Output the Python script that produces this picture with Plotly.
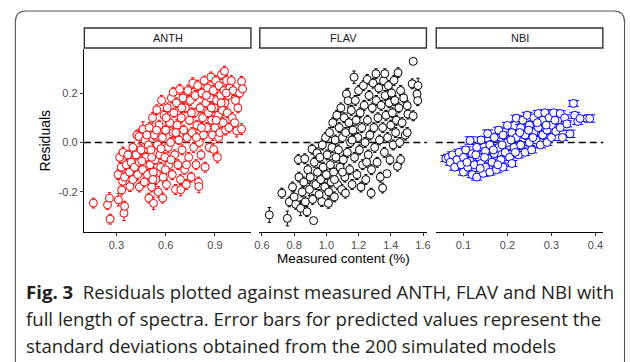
import plotly.graph_objects as go

# ---------------- data (x = measured content, y = residual, e = sd of prediction) -------------
anth_data = [
    (0.160,-0.245,0.020),(0.246,-0.252,0.018),(0.258,-0.225,0.022),(0.262,-0.310,0.020),(0.312,-0.232,0.025),
    (0.332,-0.192,0.020),(0.338,-0.157,0.022),(0.346,-0.286,0.030),(0.350,-0.258,0.020),(0.382,-0.178,0.020),
    (0.320,-0.060,0.020),(0.330,-0.100,0.018),(0.310,-0.130,0.020),(0.340,-0.040,0.022),(0.360,-0.090,0.020),
    (0.350,-0.140,0.020),(0.370,-0.050,0.018),(0.380,-0.120,0.020),(0.390,-0.080,0.022),(0.400,-0.020,0.020),
    (0.400,-0.150,0.020),(0.410,-0.100,0.018),(0.420,-0.050,0.020),(0.425,0.030,0.020),(0.430,-0.130,0.022),
    (0.440,-0.180,0.020),(0.440,-0.080,0.018),(0.438,0.024,0.030),(0.450,-0.030,0.020),(0.460,-0.110,0.020),
    (0.462,0.054,0.030),(0.470,-0.160,0.020),(0.475,0.010,0.018),(0.480,-0.060,0.020),(0.490,-0.130,0.022),
    (0.495,-0.010,0.020),(0.498,-0.225,0.020),(0.500,0.060,0.020),(0.505,-0.090,0.018),(0.510,-0.030,0.020),
    (0.515,-0.180,0.020),(0.520,0.100,0.022),(0.525,-0.120,0.020),(0.526,-0.246,0.025),(0.530,0.030,0.020),
    (0.535,-0.070,0.018),(0.540,-0.150,0.020),(0.546,0.132,0.020),(0.550,-0.010,0.020),(0.555,-0.200,0.022),
    (0.560,0.070,0.020),(0.565,-0.050,0.018),(0.570,-0.100,0.020),(0.575,0.170,0.020),(0.580,0.020,0.020),
    (0.582,-0.225,0.020),(0.585,-0.140,0.022),(0.590,0.110,0.020),(0.595,-0.060,0.018),(0.600,0.050,0.020),
    (0.605,-0.170,0.020),(0.610,0.140,0.020),(0.615,-0.020,0.022),(0.620,-0.090,0.020),(0.625,0.080,0.018),
    (0.630,0.000,0.020),(0.635,0.180,0.020),(0.640,-0.130,0.020),(0.645,0.040,0.022),(0.646,0.203,0.020),
    (0.650,0.120,0.018),(0.655,-0.050,0.020),(0.660,-0.190,0.020),(0.665,0.160,0.020),(0.670,0.070,0.022),
    (0.675,-0.090,0.020),(0.680,0.010,0.018),(0.685,0.215,0.020),(0.690,-0.150,0.020),(0.692,-0.191,0.025),
    (0.695,0.100,0.020),(0.700,-0.030,0.020),(0.705,0.180,0.022),(0.710,0.050,0.020),(0.715,-0.110,0.018),
    (0.720,0.140,0.020),(0.725,-0.170,0.020),(0.730,0.020,0.020),(0.735,0.210,0.022),(0.740,-0.060,0.020),
    (0.745,0.090,0.018),(0.750,0.170,0.020),(0.755,-0.140,0.020),(0.760,0.040,0.020),(0.765,0.240,0.022),
    (0.770,-0.020,0.020),(0.775,0.120,0.018),(0.780,0.190,0.020),(0.785,-0.090,0.020),(0.790,0.070,0.020),
    (0.795,0.230,0.022),(0.800,-0.160,0.020),(0.802,-0.178,0.025),(0.805,0.000,0.018),(0.810,0.140,0.020),
    (0.815,-0.050,0.020),(0.820,0.200,0.020),(0.825,0.100,0.022),(0.830,0.030,0.020),(0.835,0.250,0.018),
    (0.840,-0.100,0.020),(0.845,0.160,0.020),(0.850,0.060,0.020),(0.855,0.220,0.022),(0.860,0.120,0.020),
    (0.865,-0.020,0.018),(0.870,0.180,0.020),(0.875,0.265,0.020),(0.880,0.090,0.020),(0.885,0.030,0.022),
    (0.890,0.210,0.020),(0.892,-0.028,0.025),(0.895,0.140,0.018),(0.900,0.060,0.020),(0.905,0.250,0.020),
    (0.910,0.170,0.020),(0.915,-0.060,0.022),(0.920,0.110,0.020),(0.922,0.020,0.020),(0.925,0.230,0.018),
    (0.930,0.040,0.020),(0.935,0.190,0.020),(0.940,0.275,0.020),(0.945,0.130,0.022),(0.950,0.080,0.020),
    (0.955,0.210,0.018),(0.958,0.288,0.020),(0.960,0.160,0.020),(0.965,0.050,0.020),(0.970,0.250,0.022),
    (0.975,0.120,0.020),(0.980,0.190,0.018),(0.985,0.060,0.020),(0.990,0.220,0.020),(1.000,0.250,0.020),
    (1.005,0.100,0.022),(1.010,0.210,0.020),(1.020,0.080,0.018),(1.025,0.170,0.020),(1.032,0.047,0.025),
    (1.040,0.140,0.020),(1.050,0.200,0.020),(1.062,0.247,0.020),(1.062,0.054,0.022),(1.068,0.217,0.020),
    (0.455,-0.075,0.020),(0.485,0.030,0.020),(0.515,-0.060,0.020),(0.545,0.050,0.020),(0.572,-0.025,0.020),
    (0.603,0.100,0.020),(0.633,-0.070,0.020),(0.662,0.040,0.020),(0.698,0.140,0.020),(0.727,-0.090,0.020),
    (0.757,0.120,0.020),(0.787,0.020,0.020),(0.818,0.060,0.020),(0.848,0.190,0.020),(0.878,0.140,0.020),
    (0.908,0.090,0.020),(0.938,0.160,0.020),(0.968,0.200,0.020),(0.598,-0.110,0.020),(0.522,-0.150,0.020),
]

flav_data = [
    (0.646,-0.293,0.030),(0.724,-0.205,0.020),(0.758,-0.307,0.030),(0.770,-0.240,0.020),(0.790,-0.180,0.020),
    (0.800,-0.220,0.025),(0.810,-0.250,0.020),(0.826,-0.069,0.020),(0.830,-0.140,0.020),(0.840,-0.266,0.030),
    (0.850,-0.200,0.020),(0.860,-0.160,0.020),(0.866,-0.066,0.020),(0.870,-0.240,0.020),(0.880,-0.280,0.020),
    (0.885,-0.110,0.020),(0.895,-0.190,0.025),(0.900,-0.140,0.020),(0.911,-0.027,0.020),(0.915,-0.230,0.020),
    (0.921,-0.316,0.010),(0.925,-0.080,0.020),(0.935,-0.170,0.020),(0.942,-0.042,0.020),(0.945,-0.120,0.020),
    (0.955,-0.210,0.020),(0.960,-0.060,0.020),(0.965,-0.150,0.020),(0.972,-0.239,0.020),(0.975,-0.010,0.020),
    (0.980,-0.100,0.020),(0.990,-0.180,0.020),(0.995,0.020,0.020),(1.000,-0.130,0.020),(1.005,-0.050,0.020),
    (1.013,-0.246,0.020),(1.015,-0.200,0.020),(1.020,0.040,0.020),(1.025,-0.090,0.020),(1.030,-0.160,0.020),
    (1.035,-0.020,0.020),(1.040,0.080,0.020),(1.045,-0.120,0.020),(1.050,-0.220,0.020),(1.055,0.010,0.020),
    (1.060,-0.060,0.020),(1.065,0.110,0.020),(1.070,-0.170,0.020),(1.075,-0.030,0.020),(1.080,0.060,0.020),
    (1.085,-0.100,0.020),(1.090,0.140,0.020),(1.095,-0.190,0.020),(1.100,0.020,0.020),(1.105,-0.070,0.020),
    (1.110,0.100,0.020),(1.115,-0.140,0.020),(1.119,-0.205,0.020),(1.120,0.040,0.020),(1.125,0.196,0.020),
    (1.130,-0.040,0.020),(1.135,0.169,0.050),(1.140,0.080,0.020),(1.145,-0.110,0.020),(1.150,0.000,0.020),
    (1.155,0.130,0.020),(1.160,-0.170,0.020),(1.165,0.050,0.020),(1.172,0.264,0.025),(1.175,-0.060,0.020),
    (1.180,0.170,0.020),(1.185,0.090,0.020),(1.190,-0.130,0.020),(1.195,0.020,0.020),(1.200,0.210,0.020),
    (1.205,-0.030,0.020),(1.210,0.120,0.020),(1.215,-0.180,0.020),(1.220,0.060,0.020),(1.225,-0.090,0.020),
    (1.230,0.230,0.020),(1.235,0.150,0.020),(1.240,0.000,0.020),(1.245,-0.150,0.020),(1.254,0.255,0.020),
    (1.255,0.090,0.020),(1.260,-0.050,0.020),(1.265,0.190,0.020),(1.270,0.030,0.020),(1.278,-0.205,0.020),
    (1.280,-0.110,0.020),(1.285,0.140,0.020),(1.290,0.240,0.020),(1.295,0.060,0.020),(1.300,-0.020,0.020),
    (1.308,0.278,0.020),(1.310,0.170,0.020),(1.315,-0.080,0.020),(1.320,0.100,0.020),(1.325,0.220,0.020),
    (1.330,0.010,0.020),(1.335,-0.140,0.020),(1.340,0.150,0.020),(1.349,-0.184,0.020),(1.350,0.060,0.020),
    (1.355,0.250,0.020),(1.360,-0.040,0.020),(1.363,0.278,0.020),(1.365,0.190,0.020),(1.370,0.110,0.020),
    (1.376,-0.126,0.010),(1.380,0.020,0.020),(1.385,0.230,0.020),(1.390,0.160,0.020),(1.395,-0.070,0.020),
    (1.400,0.070,0.020),(1.405,0.200,0.020),(1.410,0.120,0.020),(1.415,-0.010,0.020),(1.420,0.251,0.020),
    (1.425,0.170,0.020),(1.430,0.040,0.020),(1.435,0.090,0.020),(1.441,-0.096,0.020),(1.445,0.282,0.020),
    (1.450,0.140,0.020),(1.455,0.000,0.020),(1.461,0.210,0.020),(1.461,-0.069,0.020),(1.470,0.080,0.020),
    (1.480,0.180,0.020),(1.490,0.030,0.020),(1.502,0.149,0.020),(1.502,0.040,0.020),(1.506,0.115,0.020),
    (1.533,0.237,0.020),(1.539,0.328,0.010),(1.539,0.108,0.020),(1.563,0.196,0.020),(1.567,0.169,0.020),
    (1.569,0.230,0.030),(1.050,-0.150,0.020),(1.100,-0.120,0.020),(1.160,0.010,0.020),(1.250,-0.080,0.020),
]

nbi_data = [
    (0.060,-0.065,0.012),(0.066,-0.060,0.012),(0.070,-0.080,0.012),(0.075,-0.050,0.012),(0.080,-0.100,0.012),
    (0.085,-0.070,0.012),(0.090,-0.040,0.012),(0.095,-0.090,0.012),(0.100,-0.120,0.012),(0.100,-0.060,0.012),
    (0.105,-0.030,0.012),(0.110,-0.100,0.012),(0.115,0.008,0.015),(0.115,-0.075,0.012),(0.120,-0.130,0.012),
    (0.120,-0.045,0.012),(0.125,-0.090,0.012),(0.130,-0.020,0.012),(0.130,-0.140,0.012),(0.135,-0.060,0.012),
    (0.140,0.010,0.012),(0.140,-0.085,0.012),(0.145,-0.125,0.012),(0.150,-0.035,0.012),(0.150,-0.100,0.012),
    (0.155,0.036,0.015),(0.155,-0.065,0.012),(0.160,-0.120,0.012),(0.160,-0.010,0.012),(0.165,-0.080,0.012),
    (0.170,0.020,0.012),(0.170,-0.045,0.012),(0.175,-0.110,0.012),(0.180,0.050,0.012),(0.180,-0.020,0.012),
    (0.185,-0.070,0.012),(0.190,0.030,0.012),(0.190,-0.100,0.012),(0.195,-0.040,0.012),(0.200,0.069,0.012),
    (0.200,0.000,0.012),(0.205,-0.060,0.012),(0.210,0.040,0.012),(0.210,-0.085,0.012),(0.215,-0.020,0.012),
    (0.220,0.098,0.012),(0.220,0.020,0.012),(0.225,-0.050,0.012),(0.230,0.060,0.012),(0.230,-0.010,0.012),
    (0.235,0.090,0.012),(0.240,-0.040,0.012),(0.240,0.030,0.012),(0.245,0.110,0.012),(0.250,0.000,0.012),
    (0.250,0.070,0.012),(0.255,-0.030,0.012),(0.260,0.100,0.012),(0.260,0.040,0.012),(0.265,0.010,0.012),
    (0.270,0.117,0.012),(0.270,0.060,0.012),(0.275,-0.010,0.012),(0.280,0.090,0.012),(0.280,0.030,0.012),
    (0.285,0.120,0.012),(0.290,0.050,0.012),(0.290,0.000,0.012),(0.295,0.100,0.012),(0.300,0.070,0.012),
    (0.300,0.020,0.012),(0.305,0.120,0.012),(0.310,0.045,0.012),(0.315,0.090,0.012),(0.320,0.117,0.012),
    (0.320,0.060,0.012),(0.325,0.020,0.012),(0.330,0.100,0.012),(0.335,0.075,0.012),(0.342,0.035,0.015),
    (0.350,0.158,0.012),(0.353,0.110,0.012),(0.360,0.085,0.012),(0.365,0.097,0.012),(0.387,0.097,0.015),
    (0.108,-0.080,0.012),(0.128,-0.050,0.012),(0.148,-0.060,0.012),(0.168,-0.030,0.012),(0.188,-0.010,0.012),
    (0.208,0.010,0.012),(0.228,0.040,0.012),(0.248,0.050,0.012),(0.268,0.080,0.012),(0.288,0.070,0.012),
    (0.308,0.090,0.012),(0.138,-0.105,0.012),(0.178,-0.090,0.012),(0.218,-0.040,0.012),(0.258,0.020,0.012),
]

panels = ["ANTH", "FLAV", "NBI"]
colors = ["#FF0000", "#000000", "#0000FF"]
x_ranges = [[0.102, 1.122], [0.584, 1.624], [0.037, 0.418]]
x_ticks = [[0.3, 0.6, 0.9], [0.6, 0.8, 1.0, 1.2, 1.4, 1.6], [0.1, 0.2, 0.3, 0.4]]
y_range = [-0.362, 0.378]
y_ticks = [-0.2, 0.0, 0.2]
cap_widths = [1.7, 1.7, 5.5]

# ---------------- layout geometry (pixels of the 630x362 page) ----------------
W, H = 630, 362
def px(x):
    return x / W
def py(y):
    return 1 - y / H

panel_x = [(80, 250), (258, 428), (437, 607)]
plot_top, plot_bot = 49, 232
strip_top, strip_bot = 28, 48

fig = go.Figure()
datasets = [anth_data, flav_data, nbi_data]
for i, (data, col) in enumerate(zip(datasets, colors)):
    xs = [d[0] for d in data]
    ys = [d[1] for d in data]
    es = [d[2] for d in data]
    fig.add_trace(go.Scatter(
        x=xs, y=ys, mode="markers",
        xaxis=f"x{i+1}" if i else "x", yaxis=f"y{i+1}" if i else "y",
        marker=dict(symbol="circle", size=8, color="white", line=dict(color=col, width=1)),
        error_y=dict(type="data", array=es, visible=True, color=col, thickness=1, width=cap_widths[i]),
        showlegend=False, hoverinfo="skip",
    ))

layout = dict(
    width=W, height=H, margin=dict(l=0, r=0, t=0, b=0, pad=0), autosize=False,
    paper_bgcolor="white", plot_bgcolor="white", showlegend=False,
    font=dict(family="Liberation Sans, Arial, sans-serif", color="#000"),
)
shapes = []
annotations = []
for i in range(3):
    xa = "xaxis" if i == 0 else f"xaxis{i+1}"
    ya = "yaxis" if i == 0 else f"yaxis{i+1}"
    yref = "y" if i == 0 else f"y{i+1}"
    layout[xa] = dict(
        domain=[px(panel_x[i][0]), px(panel_x[i][1])], range=x_ranges[i],
        anchor=yref, showline=True, linecolor="#000", linewidth=1.1,
        ticks="outside", ticklen=3, tickwidth=1, tickcolor="#333",
        tickvals=x_ticks[i], ticktext=[f"{v:.1f}" for v in x_ticks[i]],
        tickfont=dict(size=11, color="#4D4D4D"), showgrid=False, zeroline=False,
    )
    layout[ya] = dict(
        domain=[py(plot_bot), py(plot_top)], range=y_range,
        anchor="x" if i == 0 else f"x{i+1}",
        showline=(i == 0), linecolor="#000", linewidth=1.1,
        ticks="outside" if i == 0 else "", ticklen=3, tickwidth=1, tickcolor="#333",
        tickvals=y_ticks, ticktext=["-0.2", "0.0", "0.2"], showticklabels=(i == 0),
        tickfont=dict(size=11, color="#4D4D4D"), showgrid=False, zeroline=False,
    )
    # dashed zero line
    shapes.append(dict(type="line", xref=("x" if i == 0 else f"x{i+1}") + " domain", x0=0, x1=1,
                       yref=yref, y0=0, y1=0, line=dict(color="#000", width=1.6, dash="7px,4px"),
                       layer="below"))
    # strip
    shapes.append(dict(type="rect", xref="paper", yref="paper",
                       x0=px(panel_x[i][0] + 0.5), x1=px(panel_x[i][1] - 0.5),
                       y0=py(strip_bot), y1=py(strip_top),
                       fillcolor="white", line=dict(color="#333", width=1.4)))
    annotations.append(dict(text=panels[i], xref="paper", yref="paper",
                            x=px((panel_x[i][0] + panel_x[i][1]) / 2), y=py((strip_top + strip_bot) / 2),
                            showarrow=False, xanchor="center", yanchor="middle",
                            font=dict(size=11, color="#1A1A1A")))

# outer rounded frame
L, T, R, B, r = 10.5, 11, 628.5, 364, 11
path = (f"M {px(L)},{py(B)} L {px(L)},{py(T + r)} Q {px(L)},{py(T)} {px(L + r)},{py(T)} "
        f"L {px(R - r)},{py(T)} Q {px(R)},{py(T)} {px(R)},{py(T + r)} L {px(R)},{py(B)}")
shapes.append(dict(type="path", xref="paper", yref="paper", path=path,
                   line=dict(color="#555", width=1.1)))

# axis titles
annotations.append(dict(text="Residuals", xref="paper", yref="paper", x=px(41), y=py(141),
                        textangle=-90, showarrow=False, xanchor="center", yanchor="middle",
                        font=dict(size=14, color="#000")))
annotations.append(dict(text="Measured content (%)", xref="paper", yref="paper", x=px(343), y=py(258),
                        showarrow=False, xanchor="center", yanchor="middle",
                        font=dict(size=13.5, color="#000")))

# caption
cap_font = dict(family="Open Sans, Noto Sans, sans-serif", size=18.6, color="#231F20")
caption_lines = [
    "<b>Fig. 3</b>\u00a0\u00a0Residuals plotted against measured ANTH, FLAV and NBI with",
    "full length of spectra. Error bars for predicted values represent the",
    "standard deviations obtained from the 200 simulated models",
]
for k, (line, yy) in enumerate(zip(caption_lines, [291, 318, 345])):
    annotations.append(dict(text=line, xref="paper", yref="paper", x=px(19), y=py(yy),
                            showarrow=False, xanchor="left", yanchor="middle", font=cap_font))

layout["shapes"] = shapes
layout["annotations"] = annotations
fig.update_layout(**layout)
fig.write_html(
    "out.html",
    config={"responsive": False, "displayModeBar": False},
    post_script="document.body.style.margin='0';document.body.style.overflow='hidden';"
                "document.documentElement.style.overflow='hidden';",
)
